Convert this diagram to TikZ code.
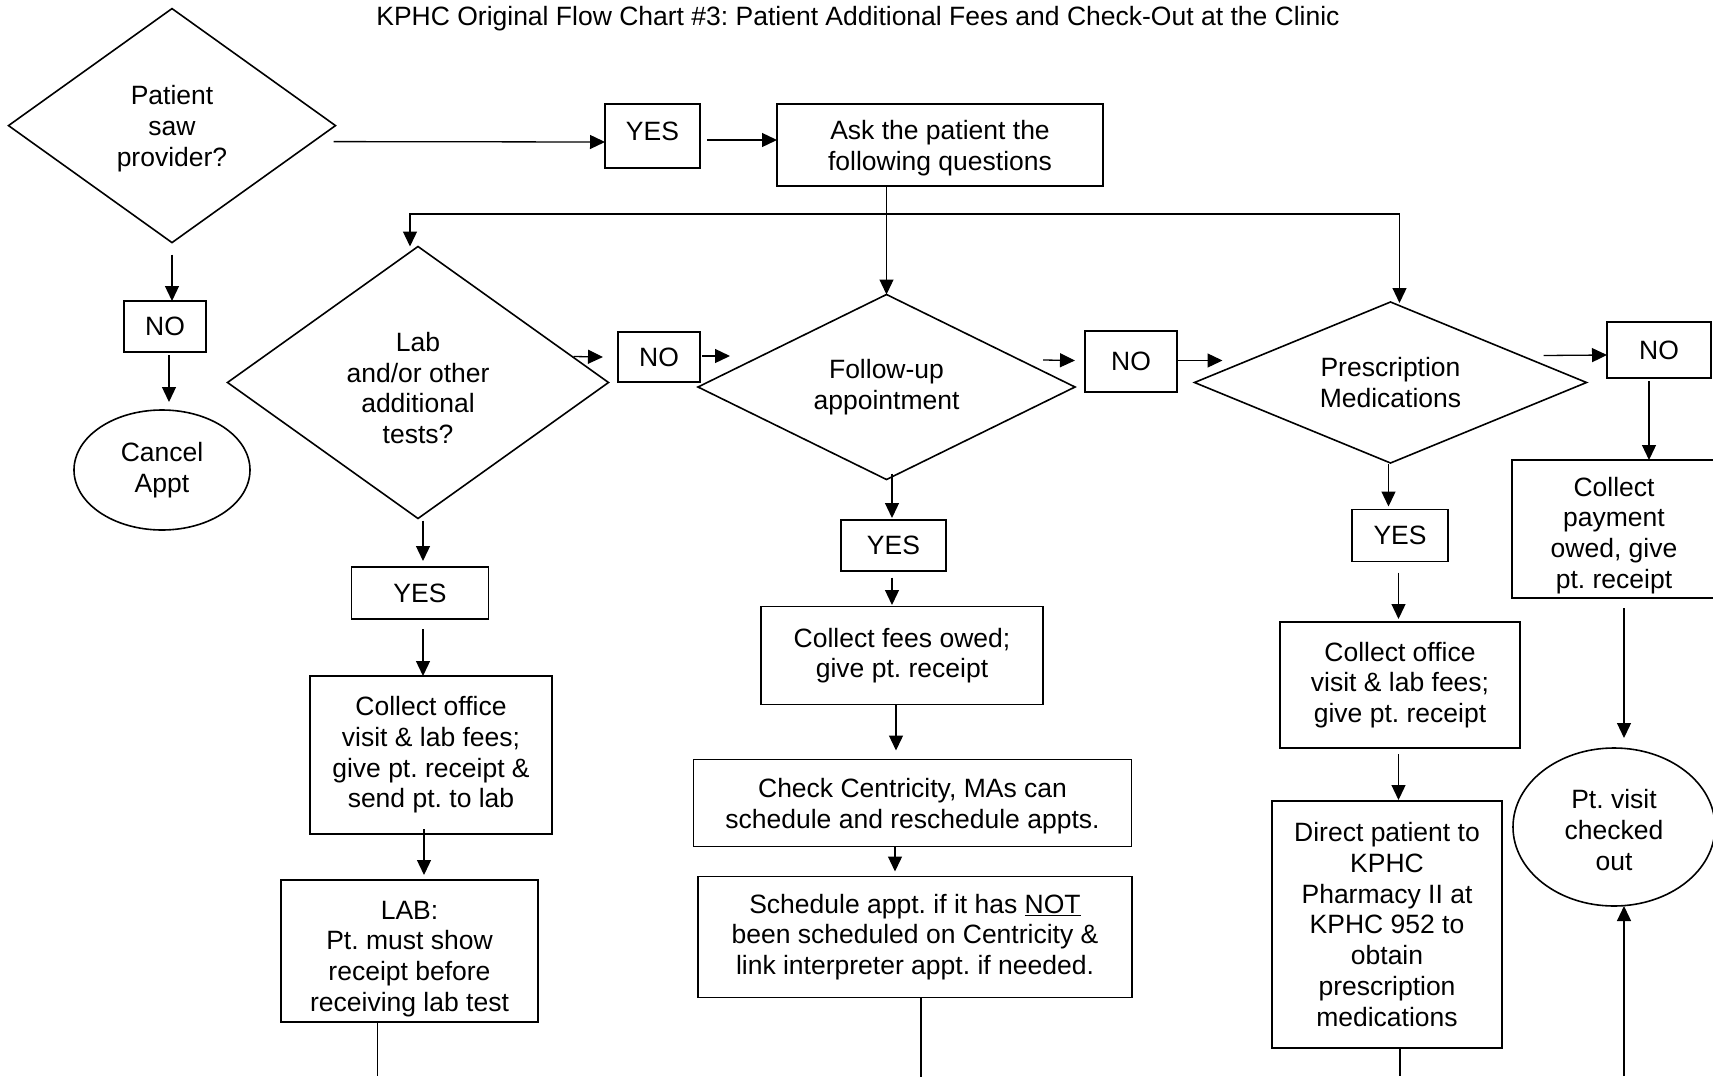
\documentclass[tikz,border=0pt]{standalone}
\usepackage{fontspec}
\setmainfont{Liberation Sans}
\usepackage{tikz}
\usetikzlibrary{shapes, arrows.meta, calc}
\frenchspacing
\tikzstyle{decision} = [diamond, draw, line width=1.6pt, inner sep=0pt, outer sep=0pt, align=center]
\tikzstyle{block} = [rectangle, draw, line width=1.8pt, inner sep=0pt, outer sep=0pt, align=center]
\tikzstyle{answer} = [rectangle, draw, line width=1.8pt, inner sep=0pt, outer sep=0pt]
\tikzstyle{terminal} = [ellipse, draw, line width=1.6pt, inner sep=0pt, outer sep=0pt, align=center]
\tikzstyle{line} = [draw, line width=1.3pt, -{Triangle[length=15pt, width=14pt]}]
\tikzstyle{stub} = [draw, line width=1.3pt]

\begin{document}
\begin{tikzpicture}[x=1pt, y=-1pt, every node/.style={font=\fontsize{26.5}{30.7}\selectfont}]
    \path [fill=white, use as bounding box] (0,0) rectangle (1713,1076);
    % Nodes
    \node (title) at (858,19) {KPHC Original Flow Chart \#3: Patient Additional Fees and Check-Out at the Clinic};
    \node [decision, minimum width=327pt, minimum height=234pt, aspect=1.4] (saw) at (172,125.6) {\rule{0pt}{25pt}Patient\\saw\\provider?};
    \node [answer, minimum width=95pt, minimum height=64pt, text depth=10pt] (yes1) at (652.5,136) {YES};
    \node [block, minimum width=326pt, minimum height=82pt] (ask) at (940,145) {\rule{0pt}{25pt}Ask the patient the\\following questions};
    \node [answer, minimum width=82pt, minimum height=51pt] (no1) at (165,326.5) {NO};
    \node [terminal, minimum width=176pt, minimum height=120pt] (cancel) at (162,470) {Cancel\\Appt};
    \node [decision, minimum width=381pt, minimum height=272pt, aspect=1.4] (lab) at (418,382.5) {\rule{0pt}{30pt}Lab\\and/or other\\additional\\tests?};
    \node [answer, minimum width=82pt, minimum height=50pt] (no2) at (659,357) {NO};
    \node [decision, minimum width=377pt, minimum height=185pt, aspect=2] (follow) at (886.5,387) {Follow-up\\appointment};
    \node [answer, minimum width=92pt, minimum height=61pt] (no3) at (1131,361.5) {NO};
    \node [decision, minimum width=392pt, minimum height=161pt, aspect=2.4] (presc) at (1390.5,382.5) {Prescription\\Medications};
    \node [answer, minimum width=104pt, minimum height=56pt] (no4) at (1659,350) {NO};
    \node [block, minimum width=204pt, minimum height=138pt] (payment) at (1614,529) {\rule{0pt}{32pt}Collect\\payment\\owed, give\\pt. receipt};
    \node [terminal, minimum width=202pt, minimum height=158pt] (checkout) at (1614,827) {\rule{0pt}{25pt}Pt. visit\\checked\\out};
    \node [answer, minimum width=137pt, minimum height=52pt] (yes2) at (420,593) {YES};
    \node [block, minimum width=242pt, minimum height=158pt] (labfees) at (431,755) {Collect office\\visit \& lab fees;\\give pt. receipt \&\\send pt. to lab};
    \node [block, minimum width=257pt, minimum height=142pt] (labtest) at (409.5,951) {\rule{0pt}{34pt}LAB:\\Pt. must show\\receipt before\\receiving lab test};
    \node [answer, minimum width=105pt, minimum height=51pt] (yes3) at (893.5,545.5) {YES};
    \node [block, minimum width=282pt, minimum height=98pt] (fees) at (902,655.5) {Collect fees owed;\\give pt. receipt};
    \node [block, minimum width=438pt, minimum height=87pt] (centricity) at (912.5,803) {\rule{0pt}{25pt}Check Centricity, MAs can\\schedule and reschedule appts.};
    \node [block, minimum width=434pt, minimum height=121pt] (schedule) at (915,937) {Schedule appt. if it has \underline{NOT}\\been scheduled on Centricity \&\\link interpreter appt. if needed.};
    \node [answer, minimum width=96pt, minimum height=52pt] (yes4) at (1400,535.5) {YES};
    \node [block, minimum width=240pt, minimum height=126pt] (rxfees) at (1400,685) {Collect office\\visit \& lab fees;\\give pt. receipt};
    \node [block, minimum width=230pt, minimum height=247pt] (pharmacy) at (1387,924.5) {Direct patient to\\KPHC\\Pharmacy II at\\KPHC 952 to\\obtain\\prescription\\medications};
    \coordinate (split) at ($(ask.south -| follow.north)+(0,28)$);
    \coordinate (labout) at ($(labtest.south)+(-32,54)$);
    \coordinate (schedout) at ($(schedule.south)+(6,79)$);
    \coordinate (pharmout) at ($(pharmacy.south)+(13,28)$);
    \coordinate (visitin) at ($(checkout.south)+(10,170)$);
    % Edges
    \path [line] ($(saw.east)+(-2,16)$) -- ($(yes1.west)+(0,6)$);
    \path [line] ($(yes1.east)+(7,4)$) -- ($(ask.west)+(0,-5)$);
    \path [line] (ask.south -| follow.north) -- (follow.north);
    \path [line] (split) -| ($(lab.north)+(-8,0)$);
    \path [line] (split) -| ($(presc.north)+(9,1)$);
    \path [line] ($(saw.south)+(0,12)$) -- (saw.south |- no1.north);
    \path [line] ($(no1.south)+(4,3)$) -- ($(no1.south |- cancel.north)+(4,-8)$);
    \path [line] ($(lab.east)+(-35,-26)$) -- ($(no2.west)+(-15,0)$);
    \path [line] ($(no2.east)+(2,-1)$) -- ($(follow.west)+(32,-31)$);
    \path [line] ($(follow.east)+(-32,-27)$) -- ($(no3.west)+(-10,-1)$);
    \path [line] ($(no3.east)+(1,-1)$) -- ($(presc.west)+(28,-22)$);
    \path [line] ($(presc.east)+(-43,-27)$) -- ($(no4.west)+(0,5)$);
    \path [line] ($(no4.south)+(-10,3)$) -- ($(no4.south |- payment.north)+(-10,0)$);
    \path [line] ($(payment.south)+(10,10)$) -- ($(checkout.north)+(10,-10)$);
    \path [line] (visitin) -- ($(checkout.south)+(10,0)$);
    \path [line] ($(lab.south)+(5,2)$) -- ($(lab.south |- yes2.north)+(5,-6)$);
    \path [line] ($(yes2.south)+(3,10)$) -- ($(yes2.south |- labfees.north)+(3,0)$);
    \path [line] ($(labfees.south)+(-7,-5)$) -- ($(labfees.south |- labtest.north)+(-7,-5)$);
    \path [stub] (labtest.south -| labout) -- (labout);
    \path [line] ($(follow.south)+(5.5,-6)$) -- ($(yes3.north)+(-1.5,-2)$);
    \path [line] ($(yes3.south)+(-1.5,6.5)$) -- ($(yes3.south |- fees.north)+(-1.5,-1.5)$);
    \path [line] ($(fees.south)+(-6,0)$) -- ($(fees.south |- centricity.north)+(-6,-9)$);
    \path [line] ($(centricity.south)+(-17.5,0)$) -- ($(centricity.south |- schedule.north)+(-17.5,-5)$);
    \path [stub] (schedule.south -| schedout) -- (schedout);
    \path [line] ($(presc.south)+(-2,1)$) -- ($(presc.south |- yes4.north)+(-2,-3)$);
    \path [line] ($(yes4.south)+(-1.5,11)$) -- ($(rxfees.north)+(-1.5,-3)$);
    \path [line] ($(rxfees.south)+(-1.5,6)$) -- ($(rxfees.south |- pharmacy.north)+(-1.5,-1)$);
    \path [stub] (pharmacy.south -| pharmout) -- (pharmout);
\end{tikzpicture}
\end{document}
